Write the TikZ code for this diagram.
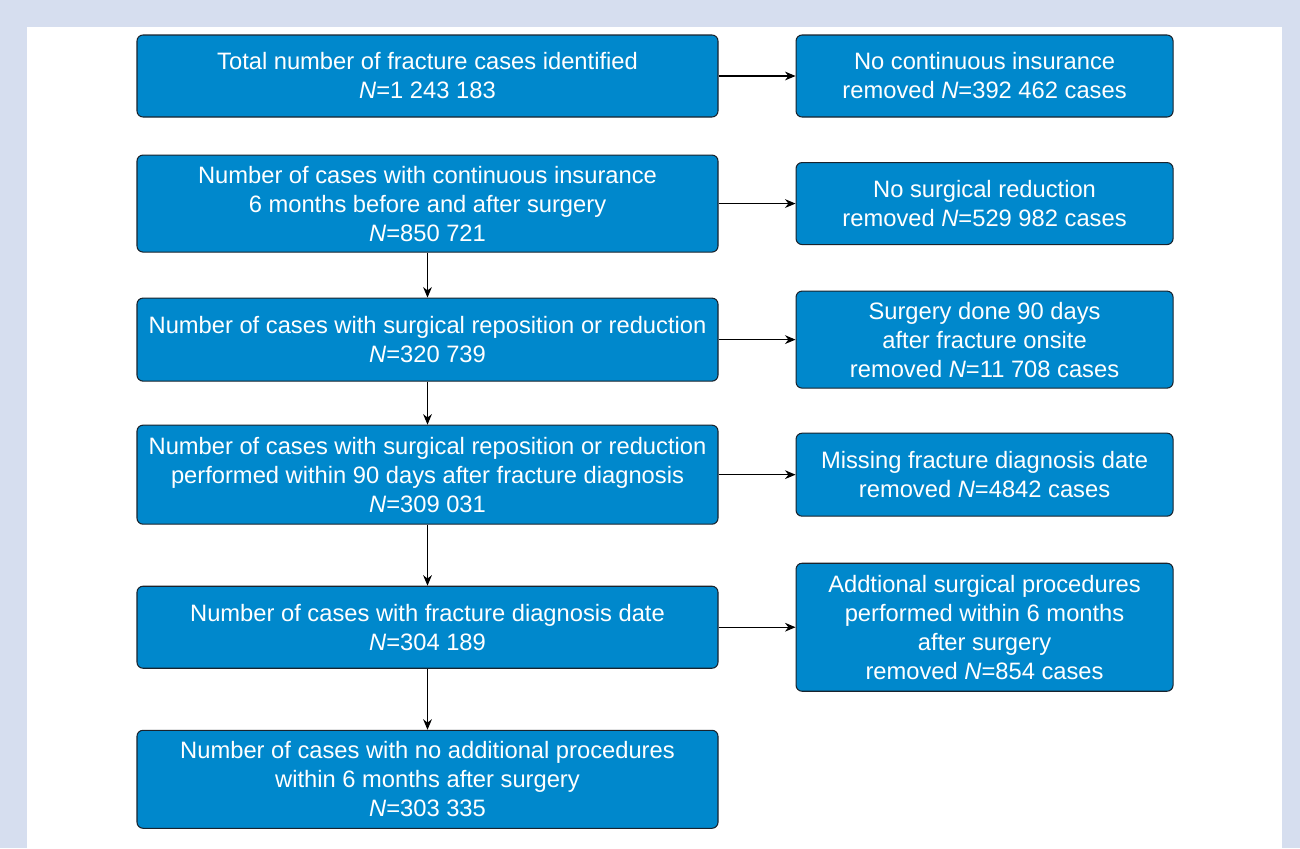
\documentclass[tikz,border=0pt]{standalone}
\usepackage{fontspec}
\setmainfont{Liberation Sans}
\usetikzlibrary{positioning}
\usetikzlibrary{arrows.meta}
\definecolor{boxblue}{RGB}{0,136,204}
\definecolor{framegrey}{RGB}{214,222,239}
\definecolor{edgedark}{RGB}{25,35,45}

\begin{document}
\begin{tikzpicture}[node distance=1.54cm,
                    >={Stealth[length=6pt,width=5pt]},
                    every node/.style={draw=edgedark,
                      line width=0.6pt,
                      rectangle,
                      rounded corners=0.12cm,
                      minimum width = 11.62cm,
                      minimum height = 1.64cm,
                      inner sep=0pt,
                      text=white,
                      align=center,
                      font=\fontsize{13.5pt}{16.5pt}\selectfont,
                    fill=boxblue},
                    side/.style={minimum width = 7.54cm}]
\useasboundingbox (0,0) rectangle (26,-16.96);
\fill[framegrey] (0,0) rectangle (26,-16.96);
\fill[white] (0.54,-0.54) rectangle (25.64,-16.96);
% main column
\node (a) at (8.55,-1.52) {Total number of fracture cases identified\\ \textit{N}=1 243 183};
\node (b) [below = 0.74cm of a, minimum height=1.94cm] {Number of cases with continuous insurance\\ 6 months before and after surgery\\ \textit{N}=850 721};
\node (c) [below = 0.90cm of b, minimum height=1.66cm] {Number of cases with surgical reposition or reduction\\ \textit{N}=320 739};
\node (d) [below = 0.86cm of c, minimum height=1.98cm] {Number of cases with surgical reposition or reduction\\ performed within 90 days after fracture diagnosis\\ \textit{N}=309 031};
\node (e) [below = 1.22cm of d] {Number of cases with fracture diagnosis date\\ \textit{N}=304 189};
\node (f) [below = 1.22cm of e, minimum height=1.96cm] {Number of cases with no additional procedures\\ within 6 months after surgery\\ \textit{N}=303 335};
% exclusions
\node (g) [side, right = of a] {No continuous insurance\\ removed \textit{N}=392 462 cases};
\node (h) [side, right = of b] {No surgical reduction\\ removed \textit{N}=529 982 cases};
\node (i) [side, right = of c, minimum height=1.94cm] {Surgery done 90 days\\ after fracture onsite\\ removed \textit{N}=11 708 cases};
\node (j) [side, right = of d, minimum height=1.66cm] {Missing fracture diagnosis date\\ removed \textit{N}=4842 cases};
\node (k) [side, right = of e, minimum height=2.56cm] {Addtional surgical procedures\\ performed within 6 months\\ after surgery\\ removed \textit{N}=854 cases};
\draw[->, line width=0.6pt] (a) -- (g);
\draw[->, line width=0.6pt] (b) -- (h);
\draw[->, line width=0.6pt] (c) -- (i);
\draw[->, line width=0.6pt] (d) -- (j);
\draw[->, line width=0.6pt] (e) -- (k);
\draw[->, line width=0.6pt] (b) -- (c);
\draw[->, line width=0.6pt] (c) -- (d);
\draw[->, line width=0.6pt] (d) -- (e);
\draw[->, line width=0.6pt] (e) -- (f);
\end{tikzpicture}
\end{document}
